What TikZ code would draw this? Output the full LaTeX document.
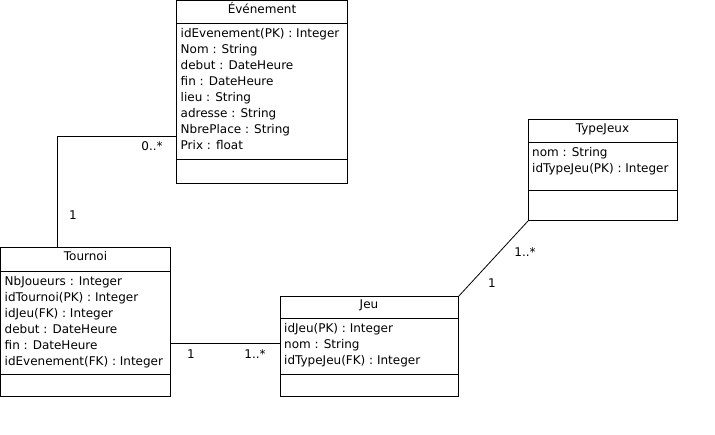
\documentclass[tikz,border=0pt]{standalone}
\usepackage{fontspec}
\setmainfont{DejaVu Sans}
\usetikzlibrary{positioning}
\tikzset{
  part/.style={draw, line width=1pt, minimum width=#1, inner sep=0pt, outer sep=0pt},
  titre/.style={font=\fontsize{12}{16}\selectfont, text height=8pt, text depth=6pt},
  attr/.style={font=\fontsize{12}{16}\selectfont, align=left, anchor=north west, inner xsep=4pt, inner ysep=2.3pt},
  mult/.style={font=\fontsize{12}{16}\selectfont, inner sep=0pt},
  lien/.style={line width=1pt},
}
\begin{document}
\begin{tikzpicture}[x=1pt, y=-1pt]
    \useasboundingbox (0,0) rectangle (715,435);

    % classe Evenement
    \node[part=171, minimum height=23.5, titre, anchor=north west] (evtT) at (176.5,0.5) {Événement};
    \node[part=171, minimum height=136, below=0pt of evtT] (evtA) {};
    \node[part=171, minimum height=24, below=0pt of evtA] (evtO) {};
    \node[attr] at (evtA.north west) {\strut idEvenement(PK) : Integer\\Nom : String\\debut : DateHeure\\fin : DateHeure\\lieu : String\\adresse : String\\NbrePlace : String\\Prix : float};

    % classe Tournoi
    \node[part=170, minimum height=24, titre, anchor=north west] (tnT) at (0.5,248) {Tournoi};
    \node[part=170, minimum height=103, below=0pt of tnT] (tnA) {};
    \node[part=170, minimum height=22, below=0pt of tnA] (tnO) {};
    \node[attr] at (tnA.north west) {\strut NbJoueurs : Integer\\idTournoi(PK) : Integer\\idJeu(FK) : Integer\\debut : DateHeure\\fin : DateHeure\\idEvenement(FK) : Integer};

    % classe Jeu
    \node[part=178, minimum height=22, titre, anchor=north west] (jeuT) at (280,297) {Jeu};
    \node[part=178, minimum height=56, below=0pt of jeuT] (jeuA) {};
    \node[part=178, minimum height=22, below=0pt of jeuA] (jeuO) {};
    \node[attr] at (jeuA.north west) {\strut idJeu(PK) : Integer\\nom : String\\idTypeJeu(FK) : Integer};

    % classe TypeJeux
    \node[part=149, minimum height=23, titre, anchor=north west] (tyT) at (528,120) {TypeJeux};
    \node[part=149, minimum height=48, below=0pt of tyT] (tyA) {};
    \node[part=149, minimum height=30, below=0pt of tyA] (tyO) {};
    \node[attr] at (tyA.north west) {\strut nom : String\\idTypeJeu(PK) : Integer};

    % associations
    \coordinate (coude) at (57,137);
    \coordinate (lien) at (225,344);
    \draw[lien] (evtA.west |- coude) -- (coude) -- (tnT.north -| coude);
    \draw[lien] (tnA.east |- lien) -- (jeuA.west |- lien);
    \draw[lien, line width=0.8pt] (jeuT.north east) -- (tyO.south west);

    % multiplicites
    \node[mult] (m1) at (152,146) {0..*};
    \node[mult] (m2) at (73,215) {1};
    \node[mult] (m3) at (191,354) {1};
    \node[mult] (m4) at (255,354) {1..*};
    \node[mult] (m5) at (525,252) {1..*};
    \node[mult] (m6) at (492,283) {1};
\end{tikzpicture}
\end{document}
